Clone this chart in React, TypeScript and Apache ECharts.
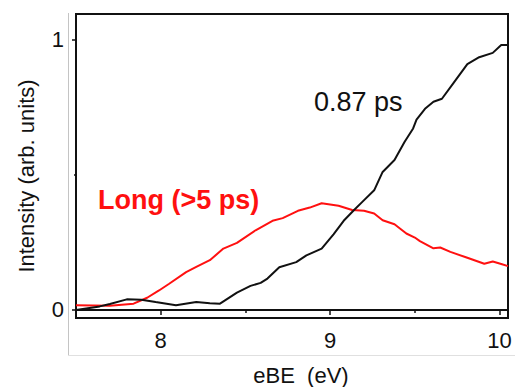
import React, { useEffect, useRef } from "react";
import * as echarts from "echarts";

const blackX = [7.5, 7.64, 7.7, 7.8, 7.886, 7.97, 8.09, 8.21, 8.29, 8.35, 8.45, 8.53, 8.59, 8.63, 8.7, 8.8, 8.86, 8.95, 9.02, 9.08, 9.14, 9.19, 9.26, 9.31, 9.38, 9.44, 9.49, 9.51, 9.56, 9.61, 9.66, 9.73, 9.81, 9.88, 9.96, 10.01, 10.05];
const blackY = [0.0, 0.013, 0.022, 0.039, 0.038, 0.029, 0.017, 0.029, 0.025, 0.023, 0.064, 0.089, 0.1, 0.116, 0.158, 0.177, 0.202, 0.227, 0.28, 0.33, 0.369, 0.4, 0.443, 0.511, 0.555, 0.623, 0.672, 0.705, 0.745, 0.771, 0.782, 0.842, 0.91, 0.936, 0.952, 0.981, 0.981];

const redX = [7.5, 7.7, 7.84, 7.92, 7.99, 8.05, 8.15, 8.21, 8.29, 8.37, 8.45, 8.56, 8.66, 8.72, 8.81, 8.88, 8.95, 9.05, 9.13, 9.2, 9.26, 9.31, 9.38, 9.45, 9.5, 9.53, 9.61, 9.65, 9.71, 9.81, 9.91, 9.96, 10.01, 10.05];
const redY = [0.017, 0.015, 0.023, 0.045, 0.072, 0.097, 0.14, 0.159, 0.184, 0.227, 0.248, 0.295, 0.33, 0.34, 0.367, 0.379, 0.395, 0.386, 0.37, 0.367, 0.357, 0.332, 0.317, 0.283, 0.268, 0.255, 0.228, 0.231, 0.215, 0.193, 0.171, 0.179, 0.17, 0.162];

const xMajorTicks = [8, 9, 10];
const xMinorTicks = [8.5, 9.5];
const yMajorTicks = [0, 1];
const yMinorTicks = [0.5];

const FONT = "'Liberation Sans', Arial, sans-serif";

export default function App() {
  const ref = useRef<HTMLDivElement>(null);
  useEffect(() => {
    if (!ref.current) return;
    const chart = echarts.init(ref.current, null, { renderer: "svg" });
    const xBase = { type: "value", gridIndex: 0, min: 7.5, max: 10.05 };
    const yBase = { type: "value", gridIndex: 0, min: -0.03, max: 1.096 };
    chart.setOption({
      animation: false,
      backgroundColor: "#ffffff",
      grid: {
        left: 76,
        right: 7,
        top: 14,
        bottom: 69,
        show: true,
        borderColor: "#111111",
        borderWidth: 2,
        backgroundColor: "transparent",
      },
      xAxis: [
        {
          ...xBase,
          position: "bottom",
          splitLine: { show: false },
          axisLine: { show: true, lineStyle: { color: "#111111", width: 2 } },
          axisTick: { show: true, inside: false, length: 5, customValues: xMajorTicks, lineStyle: { color: "#111111", width: 1.5 } },
          axisLabel: { show: true, customValues: xMajorTicks, margin: 11, fontSize: 22, color: "#111111", fontFamily: FONT },
        },
        {
          ...xBase,
          position: "bottom",
          splitLine: { show: false },
          axisLine: { show: false },
          axisTick: { show: true, inside: false, length: 3, customValues: xMinorTicks, lineStyle: { color: "#111111", width: 1.5 } },
          axisLabel: { show: false },
        },
      ],
      yAxis: [
        {
          ...yBase,
          position: "left",
          splitLine: { show: false },
          axisLine: { show: true, lineStyle: { color: "#111111", width: 2 } },
          axisTick: { show: true, inside: false, length: 4, customValues: yMajorTicks, lineStyle: { color: "#111111", width: 1.5 } },
          axisLabel: { show: true, customValues: yMajorTicks, margin: 12, fontSize: 22, color: "#111111", fontFamily: FONT },
        },
        {
          ...yBase,
          position: "left",
          splitLine: { show: false },
          axisLine: { show: false },
          axisTick: { show: true, inside: false, length: 2, customValues: yMinorTicks, lineStyle: { color: "#111111", width: 1.5 } },
          axisLabel: { show: false },
        },
      ],
      series: [
        {
          type: "line",
          name: "Long (>5 ps)",
          xAxisIndex: 0,
          yAxisIndex: 0,
          data: redX.map((x, i) => [x, redY[i]]),
          showSymbol: false,
          lineStyle: { color: "#ff1010", width: 2 },
          z: 2,
        },
        {
          type: "line",
          name: "0.87 ps",
          xAxisIndex: 0,
          yAxisIndex: 0,
          data: blackX.map((x, i) => [x, blackY[i]]),
          showSymbol: false,
          lineStyle: { color: "#111111", width: 2 },
          z: 3,
        },
      ],
      graphic: [
        { type: "line", shape: { x1: 68.5, y1: 13, x2: 68.5, y2: 355.5 }, style: { stroke: "#c4c4c4", lineWidth: 1 } },
        { type: "line", shape: { x1: 68.5, y1: 355.5, x2: 515, y2: 355.5 }, style: { stroke: "#e0e0e0", lineWidth: 1 } },
        {
          type: "text",
          x: 26,
          y: 176,
          rotation: Math.PI / 2,
          style: { text: "Intensity (arb. units)", font: `22px ${FONT}`, fill: "#111111", align: "center", verticalAlign: "middle" },
        },
        {
          type: "text",
          x: 301,
          y: 375,
          style: { text: "eBE  (eV)", font: `22px ${FONT}`, fill: "#111111", align: "center", verticalAlign: "middle" },
        },
        {
          type: "text",
          x: 314,
          y: 102,
          style: { text: "0.87 ps", font: `27px ${FONT}`, fill: "#111111", align: "left", verticalAlign: "middle" },
        },
        {
          type: "text",
          x: 98,
          y: 200,
          style: { text: "Long (>5 ps)", font: `bold 27px ${FONT}`, fill: "#ff1010", align: "left", verticalAlign: "middle" },
        },
      ],
    });
    return () => chart.dispose();
  }, []);
  return (
    <div
      ref={ref}
      style={{ position: "fixed", left: 0, top: 0, width: 515, height: 387, background: "#fff" }}
    />
  );
}
